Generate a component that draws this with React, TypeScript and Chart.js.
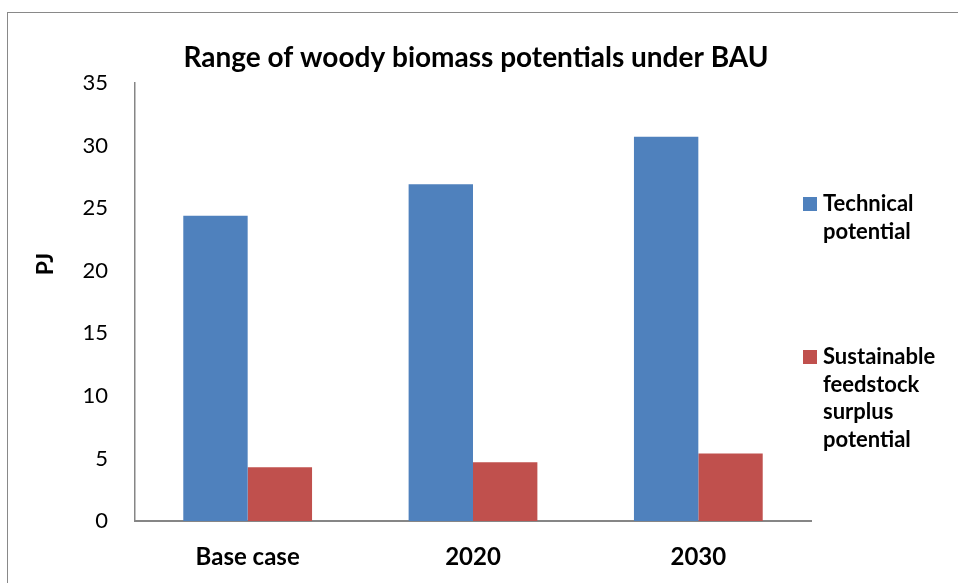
import React, { useEffect, useRef } from "react";
import { Chart, registerables } from "chart.js";

Chart.register(...registerables);

const categories = ["Base case", "2020", "2030"];
const technicalPotential = [24.4, 26.9, 30.7];
const sustainablePotential = [4.3, 4.7, 5.4];
const seriesLabels = ["Technical potential", "Sustainable feedstock surplus potential"];
const legendLines = [["Technical", "potential"], ["Sustainable", "feedstock", "surplus", "potential"]];
const seriesColors = ["#4F81BD", "#C0504D"];
const chartTitle = "Range of woody biomass potentials under BAU";
const yAxisTitle = "PJ";
const yMin = 0;
const yMax = 35;
const yStep = 5;

const FONT = "Lato, 'Open Sans', sans-serif";

const decorPlugin = {
  id: "decor",
  afterDraw(chart: any) {
    const ctx = chart.ctx;
    ctx.save();
    // title
    ctx.fillStyle = "#000";
    ctx.font = `bold 28px ${FONT}`;
    ctx.textAlign = "center";
    ctx.textBaseline = "middle";
    ctx.fillText(chartTitle, 476, 58);
    // y axis title
    ctx.save();
    ctx.translate(46, 264);
    ctx.rotate(-Math.PI / 2);
    ctx.font = `bold 23px ${FONT}`;
    ctx.fillText(yAxisTitle, 0, 0);
    ctx.restore();
    // legend
    const starts = [204, 357];
    const lh = 27.7;
    ctx.textAlign = "left";
    ctx.font = `bold 22px ${FONT}`;
    chart.data.datasets.forEach((ds: any, i: number) => {
      const y0 = starts[i];
      ctx.fillStyle = ds.backgroundColor;
      ctx.fillRect(803, y0 - 7, 14, 14);
      ctx.fillStyle = "#000";
      legendLines[i].forEach((line, j) => {
        ctx.fillText(line, 823, y0 + j * lh);
      });
    });
    ctx.restore();
  },
};

export default function App() {
  const canvasRef = useRef<HTMLCanvasElement | null>(null);
  useEffect(() => {
    const canvas = canvasRef.current;
    if (!canvas) return;
    const chart = new Chart(canvas, {
      type: "bar",
      data: {
        labels: categories,
        datasets: [
          {
            label: seriesLabels[0],
            data: technicalPotential,
            backgroundColor: seriesColors[0],
            borderWidth: 0,
            categoryPercentage: 1 / 1.75,
            barPercentage: 1,
          },
          {
            label: seriesLabels[1],
            data: sustainablePotential,
            backgroundColor: seriesColors[1],
            borderWidth: 0,
            categoryPercentage: 1 / 1.75,
            barPercentage: 1,
          },
        ],
      },
      options: {
        responsive: false,
        animation: false,
        devicePixelRatio: 1,
        layout: { padding: { left: 0, right: 147, top: 83, bottom: 0 } },
        plugins: {
          legend: { display: false },
          title: { display: false },
          tooltip: { enabled: false },
        },
        scales: {
          x: {
            grid: { display: false, drawTicks: false },
            border: { display: true, color: "#868686", width: 2 },
            ticks: {
              color: "#000",
              font: { family: FONT, size: 24, weight: "bold" },
              padding: 22,
            },
            afterFit(scale: any) {
              scale.height = 62;
            },
          },
          y: {
            min: yMin,
            max: yMax,
            grid: { display: false, drawTicks: false },
            border: { display: true, color: "#868686", width: 1.5 },
            ticks: {
              stepSize: yStep,
              color: "#000",
              font: { family: FONT, size: 22 },
              padding: 27,
            },
            afterFit(scale: any) {
              scale.width = 135;
            },
          },
        },
      },
      plugins: [decorPlugin],
    });
    return () => chart.destroy();
  }, []);

  return (
    <div style={{ position: "fixed", left: 0, top: 0, width: 958, height: 583, background: "#fff", overflow: "hidden" }}>
      <canvas ref={canvasRef} width={958} height={583} style={{ position: "absolute", left: 0, top: 0 }} />
      <div
        style={{
          position: "absolute",
          left: 7,
          top: 12,
          width: 1000,
          height: 1000,
          border: "1px solid #898989",
          pointerEvents: "none",
        }}
      />
    </div>
  );
}
